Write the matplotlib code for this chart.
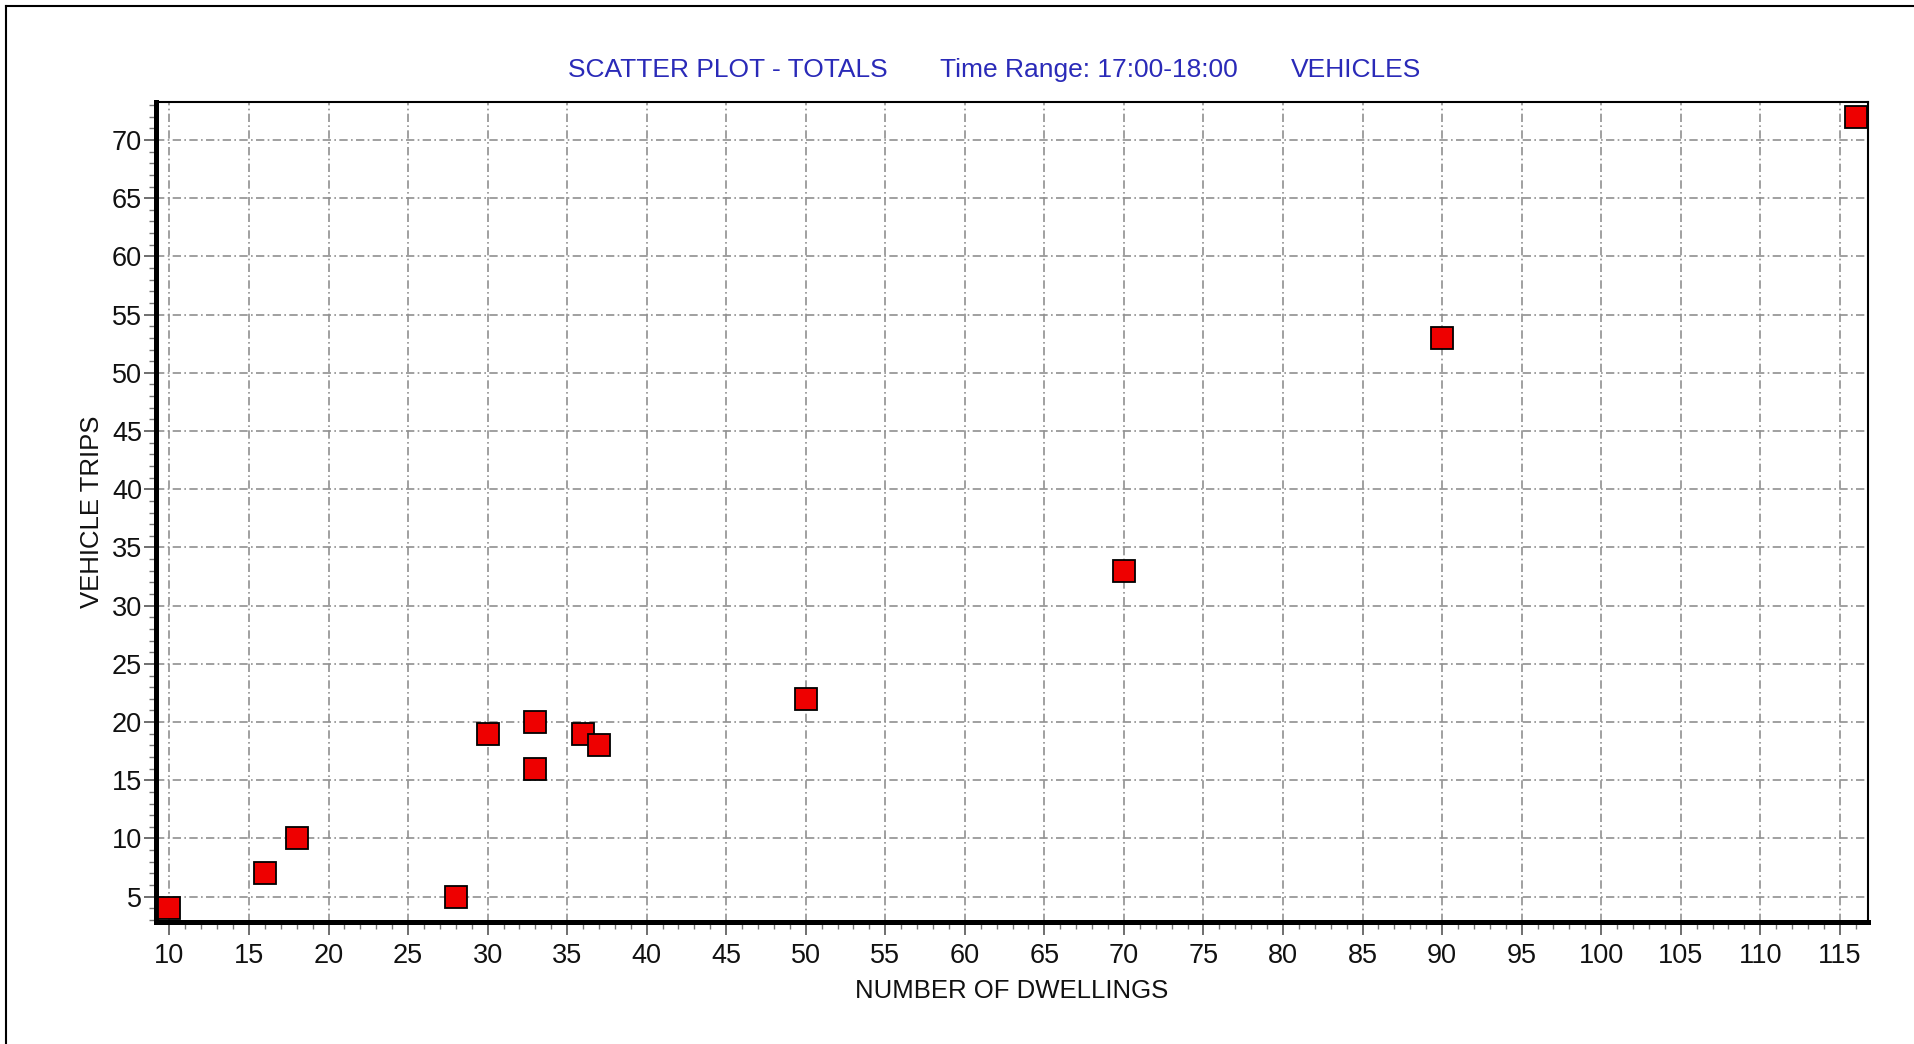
import matplotlib
matplotlib.use("Agg")
import matplotlib.pyplot as plt
from matplotlib.ticker import MultipleLocator
from matplotlib.lines import Line2D

# data
dwellings = [10, 16, 18, 28, 30, 33, 33, 36, 37, 50, 70, 90, 116]
vehicle_trips = [4, 7, 10, 5, 19, 20, 16, 19, 18, 22, 33, 53, 72]

x_ticks = list(range(10, 116, 5))
y_ticks = list(range(5, 71, 5))

plt.rcParams["font.family"] = ["Liberation Sans", "DejaVu Sans"]

fig = plt.figure(figsize=(19.15, 10.44), dpi=100)
ax = fig.add_axes([0.0815, 0.1169, 0.894, 0.7857])

ax.plot(dwellings, vehicle_trips, linestyle="none", marker="s", markersize=15.5,
        markerfacecolor="#ee0000", markeredgecolor="black", markeredgewidth=1.3,
        zorder=5, clip_on=False)

ax.set_xlim(9.16, 116.78)
ax.set_ylim(2.83, 73.29)
ax.set_xticks(x_ticks)
ax.set_yticks(y_ticks)
ax.xaxis.set_minor_locator(MultipleLocator(1))
ax.yaxis.set_minor_locator(MultipleLocator(1))

ax.grid(True, which="major", color="#909090", linestyle=(0, (5, 2, 1, 2)), linewidth=1.2)

ax.spines["left"].set_linewidth(3.6)
ax.spines["bottom"].set_linewidth(3.6)
ax.spines["top"].set_linewidth(1.5)
ax.spines["right"].set_linewidth(1.5)

ax.tick_params(axis="both", which="major", direction="out", length=9, width=1.2,
               color="#555555", labelsize=19.5, labelcolor="#111111")
ax.tick_params(axis="both", which="minor", direction="out", length=5, width=1.0,
               color="#777777")
ax.tick_params(axis="x", which="major", pad=6)
ax.tick_params(axis="y", which="major", pad=1)

ax.set_xlabel("NUMBER OF DWELLINGS", fontsize=18.5, color="#111111", labelpad=7)
ax.set_ylabel("VEHICLE TRIPS", fontsize=18.5, color="#111111", labelpad=6)

# title pieces in blue
title_color = "#2a2ab8"
fig.text(568 / 1915, 1 - 70 / 1044, "SCATTER PLOT - TOTALS", color=title_color,
         fontsize=19, ha="left", va="center")
fig.text(940 / 1915, 1 - 70 / 1044, "Time Range: 17:00-18:00", color=title_color,
         fontsize=19, ha="left", va="center")
fig.text(1291 / 1915, 1 - 70 / 1044, "VEHICLES", color=title_color,
         fontsize=19, ha="left", va="center")

# frame lines along the top and left of the picture
fig.add_artist(Line2D([6 / 1915, 6 / 1915], [0, 1 - 6 / 1044], color="black", linewidth=1.5))
fig.add_artist(Line2D([6 / 1915, 1], [1 - 6 / 1044, 1 - 6 / 1044], color="black", linewidth=1.5))

fig.savefig("out.png", dpi=100)
